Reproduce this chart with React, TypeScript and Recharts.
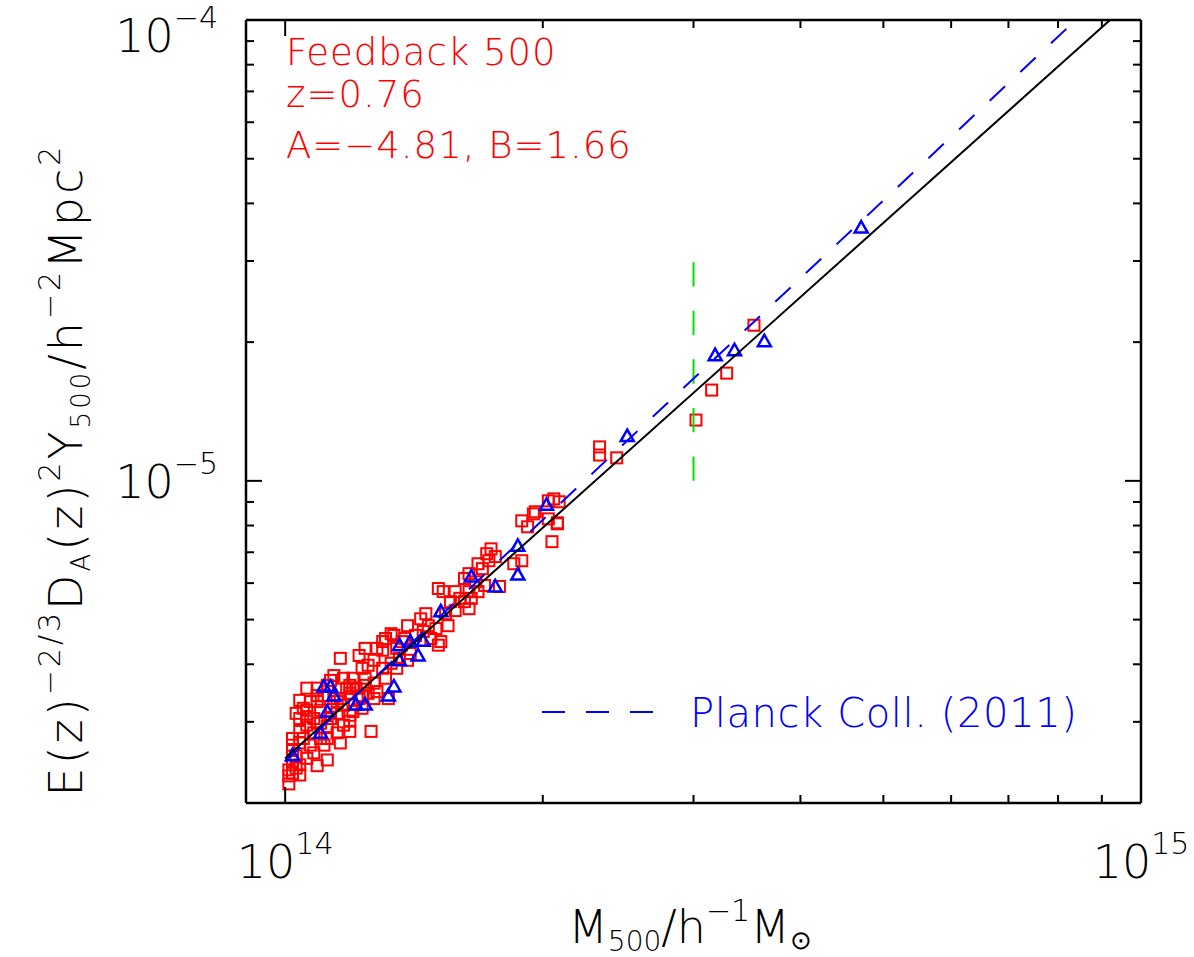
import React from "react";
import { ScatterChart, Scatter, XAxis, YAxis } from "recharts";

const WIDTH = 1194;
const HEIGHT = 957;
const FONT = '"DejaVu Sans", sans-serif';
const WEIGHT = 200;

// Feedback 500 clusters: M500 in 1e14 h^-1 Msun, Y in 1e-6 h^-2 Mpc^2
const redMass = [
  3.53, 3.28, 3.15, 3.02, 2.33, 2.33, 2.44, 2.06, 2.09, 2.03,
  2.03, 2.08, 2.05, 1.96, 1.89, 1.92, 1.95, 2.08, 1.74, 1.73,
  1.76, 1.68, 1.70, 1.64, 1.62, 1.71, 1.68, 1.78, 1.85, 1.89,
  1.51, 1.53, 1.58, 1.60, 1.56, 1.62, 1.64, 1.58, 1.64, 1.44,
  1.39, 1.47, 1.45, 1.50, 1.55, 1.42, 1.34, 1.31, 1.37, 1.52,
  1.51, 1.33, 1.30, 1.38, 1.30, 1.36, 1.39, 1.27, 1.22, 1.23,
  1.25, 1.30, 1.33, 1.20, 1.17, 1.14, 1.13, 1.12, 1.19, 1.24,
  1.27, 1.28, 1.23, 1.04, 1.07, 1.09, 1.14, 1.11, 1.32, 1.17,
  1.05, 1.06, 1.10, 1.13, 1.15, 1.19, 1.20, 1.22, 1.19, 1.20,
  1.17, 1.19, 1.19, 1.26, 1.04, 1.06, 1.04, 1.05, 1.08, 1.10,
  1.12, 1.11, 1.07, 1.02, 1.02, 1.02, 1.03, 1.04, 1.02, 1.04,
  1.01, 1.09, 1.12, 1.01, 1.08, 1.15, 1.09, 1.23, 1.27, 1.35,
  1.40, 1.46, 1.54, 1.48, 1.67, 1.65, 1.72, 1.16, 1.24, 1.03,
  1.06, 1.09, 1.12, 1.15, 1.16, 1.02, 1.03, 1.06, 1.08, 1.01,
  1.16, 1.18, 1.21, 1.24, 1.25, 1.31, 1.35, 1.28, 1.09, 1.06,
  1.13, 1.04, 1.10,
];
const redY = [
  21.76, 17.13, 15.74, 13.55, 11.85, 11.38, 11.22, 9.14, 9.01, 9.05,
  8.27, 8.11, 7.38, 8.57, 8.19, 7.95, 8.48, 8.07, 7.12, 6.71,
  6.85, 6.61, 6.45, 6.29, 6.14, 5.93, 5.75, 5.90, 6.61, 6.71,
  5.84, 5.75, 5.75, 5.56, 5.47, 5.47, 5.28, 5.23, 5.75, 5.02,
  4.85, 4.85, 4.71, 4.78, 4.85, 4.62, 4.62, 4.55, 4.48, 4.48,
  4.40, 4.66, 4.48, 4.55, 4.29, 4.12, 4.08, 4.08, 4.18, 3.92,
  3.98, 3.92, 4.02, 3.73, 3.73, 3.78, 3.69, 3.60, 3.60, 3.60,
  3.64, 3.49, 3.42, 3.34, 3.32, 3.32, 3.37, 3.42, 3.37, 3.26,
  3.21, 3.18, 3.18, 3.24, 3.32, 3.46, 3.55, 3.37, 3.10, 3.16,
  2.95, 2.86, 3.01, 2.86, 3.05, 2.95, 2.86, 2.76, 2.84, 2.76,
  2.76, 2.67, 2.67, 2.67, 2.60, 2.47, 2.38, 2.42, 2.32, 2.30,
  2.36, 2.41, 2.48, 2.20, 3.05, 3.13, 3.55, 3.21, 3.37, 4.33,
  4.22, 5.15, 5.15, 4.55, 6.04, 5.56, 6.95, 4.12, 4.33, 3.13,
  3.08, 2.98, 2.93, 2.84, 2.70, 2.76, 2.53, 2.50, 2.57, 2.29,
  3.37, 3.55, 3.55, 3.73, 3.46, 3.73, 3.92, 4.33, 3.42, 3.55,
  3.05, 2.70, 2.98,
];

// blue triangles, same units
const blueMass = [
  4.71, 3.63, 3.35, 3.18, 2.51, 2.02, 1.87, 1.87, 1.76, 1.65,
  1.52, 1.45, 1.40, 1.36, 1.43, 1.36, 1.34, 1.32, 1.11, 1.13,
  1.14, 1.21, 1.24, 1.12, 1.10, 1.02,
];
const blueY = [
  35.46, 20.09, 19.21, 18.74, 12.51, 8.87, 7.23, 6.26, 5.90, 6.20,
  5.21, 4.50, 4.48, 4.40, 4.18, 4.08, 3.58, 3.42, 3.58, 3.58,
  3.42, 3.27, 3.27, 3.16, 2.84, 2.54,
];

// best fit (A=-4.81, B=1.66), end points
const fitMass = [1.0, 9.2];
const fitY = [2.5, 100];
// Planck Coll. (2011), end points
const planckMass = [1.0, 8.39];
const planckY = [2.46, 100];
// mass cut marker
const cutMass = [3.0, 3.0];
const cutY = [10, 30];

const xTicks = [0.9e14, 1e14, 2e14, 3e14, 4e14, 5e14, 6e14, 7e14, 8e14, 9e14, 1e15];
const yTicks = [
  2e-6, 3e-6, 4e-6, 5e-6, 6e-6, 7e-6, 8e-6, 9e-6, 1e-5,
  2e-5, 3e-5, 4e-5, 5e-5, 6e-5, 7e-5, 8e-5, 9e-5, 1e-4,
];

const toPoints = (m: number[], y: number[]) =>
  m.map((v, i) => ({ x: v * 1e14, y: y[i] * 1e-6 }));

const redData = toPoints(redMass, redY);
const blueData = toPoints(blueMass, blueY);
const fitData = toPoints(fitMass, fitY);
const planckData = toPoints(planckMass, planckY);
const cutData = toPoints(cutMass, cutY);

const isMajor = (v: number) => {
  const l = Math.log10(v);
  return Math.abs(l - Math.round(l)) < 1e-6;
};
const expOf = (v: number) => Math.round(Math.log10(v));
const fmtExp = (e: number) => (e < 0 ? "\u2212" + -e : String(e));

function BottomTick({ x, y, payload }: any) {
  const major = isMajor(payload.value);
  return (
    <g>
      <line x1={x} y1={y} x2={x} y2={y - (major ? 16 : 8)} stroke="#000" strokeWidth={2} />
      {major && (
        <text x={x} y={y + 75} textAnchor="middle" fontFamily={FONT} fontWeight={WEIGHT} fontSize={46} fill="#000">
          10<tspan dy={-24} fontSize={30}>{fmtExp(expOf(payload.value))}</tspan>
        </text>
      )}
    </g>
  );
}

function TopTick({ x, y, payload }: any) {
  const major = isMajor(payload.value);
  return <line x1={x} y1={y} x2={x} y2={y + (major ? 16 : 8)} stroke="#000" strokeWidth={2} />;
}

function LeftTick({ x, y, payload }: any) {
  const major = isMajor(payload.value);
  // keep the top label inside the page
  const base = Math.max(y + 17, 52);
  return (
    <g>
      <line x1={x} y1={y} x2={x + (major ? 16 : 8)} y2={y} stroke="#000" strokeWidth={2} />
      {major && (
        <text x={x - 28} y={base} textAnchor="end" fontFamily={FONT} fontWeight={WEIGHT} fontSize={46} fill="#000">
          10<tspan dy={-24} fontSize={30}>{fmtExp(expOf(payload.value))}</tspan>
        </text>
      )}
    </g>
  );
}

function RightTick({ x, y, payload }: any) {
  const major = isMajor(payload.value);
  return <line x1={x} y1={y} x2={x - (major ? 16 : 8)} y2={y} stroke="#000" strokeWidth={2} />;
}

const Square = ({ cx, cy }: any) => (
  <rect x={cx - 5.5} y={cy - 5.5} width={11} height={11} fill="none" stroke="#ff0000" strokeWidth={2} />
);

const Triangle = ({ cx, cy }: any) => (
  <polygon
    points={`${cx},${cy - 6.5} ${cx - 6.5},${cy + 5} ${cx + 6.5},${cy + 5}`}
    fill="none"
    stroke="#0000ff"
    strokeWidth={2.5}
  />
);

const NoShape = () => <g />;

const axisLine = { stroke: "#000", strokeWidth: 2.5 };

export default function App() {
  return (
    <div style={{ position: "absolute", left: 0, top: 0, width: WIDTH, height: HEIGHT, background: "#fff" }}>
      <ScatterChart width={WIDTH} height={HEIGHT} margin={{ top: 19, right: 52, bottom: 153, left: 245 }}>
        <XAxis
          type="number"
          dataKey="x"
          scale="log"
          domain={[0.9e14, 1e15]}
          allowDataOverflow
          ticks={xTicks}
          interval={0}
          height={1}
          tickSize={0}
          tickMargin={0}
          tickLine={false}
          axisLine={axisLine}
          tick={(p: any) => <BottomTick {...p} />}
        />
        <XAxis
          xAxisId="top"
          orientation="top"
          type="number"
          dataKey="x"
          scale="log"
          domain={[0.9e14, 1e15]}
          allowDataOverflow
          ticks={xTicks}
          interval={0}
          height={1}
          tickSize={0}
          tickMargin={0}
          tickLine={false}
          axisLine={axisLine}
          tick={(p: any) => <TopTick {...p} />}
        />
        <YAxis
          type="number"
          dataKey="y"
          scale="log"
          domain={[2e-6, 1e-4]}
          allowDataOverflow
          ticks={yTicks}
          interval={0}
          width={1}
          tickSize={0}
          tickMargin={0}
          tickLine={false}
          axisLine={axisLine}
          tick={(p: any) => <LeftTick {...p} />}
        />
        <YAxis
          yAxisId="right"
          orientation="right"
          type="number"
          dataKey="y"
          scale="log"
          domain={[2e-6, 1e-4]}
          allowDataOverflow
          ticks={yTicks}
          interval={0}
          width={1}
          tickSize={0}
          tickMargin={0}
          tickLine={false}
          axisLine={axisLine}
          tick={(p: any) => <RightTick {...p} />}
        />
        <Scatter data={redData} shape={Square} isAnimationActive={false} />
        <Scatter data={blueData} shape={Triangle} isAnimationActive={false} />
        <Scatter
          data={cutData}
          shape={NoShape}
          line={{ stroke: "#00e000", strokeWidth: 2, strokeDasharray: "24.3 24.3" }}
          isAnimationActive={false}
        />
        <Scatter
          data={fitData}
          shape={NoShape}
          line={{ stroke: "#000", strokeWidth: 2 }}
          isAnimationActive={false}
        />
        <Scatter
          data={planckData}
          shape={NoShape}
          line={{ stroke: "#0000ff", strokeWidth: 2, strokeDasharray: "21 21" }}
          isAnimationActive={false}
        />
      </ScatterChart>

      <svg
        width={WIDTH}
        height={HEIGHT}
        style={{ position: "absolute", left: 0, top: 0, pointerEvents: "none" }}
        fontFamily={FONT}
        fontWeight={WEIGHT}
      >
        <g fill="#ff0000" fontSize={37} letterSpacing={1}>
          <text x={286} y={65}>Feedback 500</text>
          <text x={286} y={107}>z=0.76</text>
          <text x={286} y={158}>A=−4.81, B=1.66</text>
        </g>

        <line x1={542} y1={712} x2={655} y2={712} stroke="#0000ff" strokeWidth={2} strokeDasharray="23 21" />
        <text x={690} y={727} fill="#0000ff" fontSize={40} letterSpacing={0.6}>Planck Coll. (2011)</text>

        <text x={690} y={943} textAnchor="middle" fontSize={46} fill="#000">
          M<tspan dy={8} fontSize={28}>500</tspan>
          <tspan dy={-8} fontSize={46}>/h</tspan>
          <tspan dy={-22} fontSize={30}>−1</tspan>
          <tspan dy={22} fontSize={46}>M</tspan>
          <tspan dy={6} fontSize={26}>⊙</tspan>
        </text>

        <text
          transform="rotate(-90)"
          x={-470}
          y={82}
          textAnchor="middle"
          fontSize={46}
          letterSpacing={3}
          fill="#000"
        >
          E(z)<tspan dy={-22} fontSize={30}>−2/3</tspan>
          <tspan dy={22} fontSize={46}>D</tspan>
          <tspan dy={8} fontSize={26}>A</tspan>
          <tspan dy={-8} fontSize={46}>(z)</tspan>
          <tspan dy={-22} fontSize={30}>2</tspan>
          <tspan dy={22} fontSize={46}>Y</tspan>
          <tspan dy={8} fontSize={26}>500</tspan>
          <tspan dy={-8} fontSize={46}>/h</tspan>
          <tspan dy={-22} fontSize={30}>−2</tspan>
          <tspan dy={22} fontSize={46}>Mpc</tspan>
          <tspan dy={-22} fontSize={30}>2</tspan>
        </text>
      </svg>
    </div>
  );
}
